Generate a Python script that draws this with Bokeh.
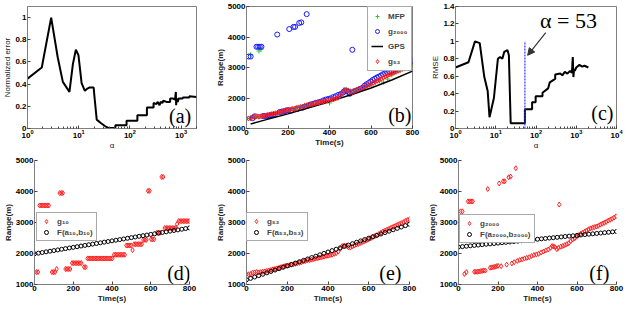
from bokeh.plotting import figure
from bokeh.models import FixedTicker, Label, Arrow, NormalHead
from bokeh.layouts import row, column
from bokeh.embed import file_html
from bokeh.resources import INLINE

# ---------------- data ----------------
# (a) normalized error vs alpha
alpha_a = [1, 1.9, 2.9, 3.9, 4.9, 6.6, 7.7, 8.8, 9.9, 11.4, 13.2, 14.8, 16.4, 19.6, 20.2,
           22.5, 27, 33, 39, 46, 52, 52, 86, 86, 140, 140, 215, 215, 290, 290,
           330, 350, 380, 400, 430, 450, 520, 610, 610, 700, 760, 790, 800, 820, 860,
           900, 1080, 1080, 1450, 1450, 2000]
err_a = [0.45, 0.55, 1.0, 0.64, 0.42, 0.33, 0.58, 0.71, 0.66, 0.41, 0.34, 0.36, 0.37, 0.37, 0.30,
         0.08, 0.05, 0.02, 0.004, 0.005, 0.005, 0.03, 0.03, 0.07, 0.07, 0.12, 0.12, 0.19, 0.19, 0.23,
         0.22, 0.24, 0.21, 0.24, 0.23, 0.25, 0.24, 0.24, 0.27, 0.27, 0.26, 0.33, 0.21, 0.27, 0.24,
         0.27, 0.27, 0.28, 0.28, 0.29, 0.285]

# (c) RMSE vs alpha
alpha_c = [1, 2.1, 3.05, 4, 5.2, 6.3, 7.0, 9.0, 11.3, 12.8, 14.6, 16.3, 19.5, 21.2, 23.5,
           53, 53, 80, 80, 98, 98, 145, 145, 200, 220, 300, 300, 400, 450, 520,
           600, 700, 780, 820, 850, 880, 920, 1000, 1200, 1400, 1600, 2000]
rmse_c = [0.70, 0.76, 1.0, 0.98, 0.59, 0.43, 0.13, 0.35, 0.80, 0.82, 0.80, 0.88, 0.90, 0.84, 0.06,
          0.06, 0.22, 0.22, 0.30, 0.30, 0.37, 0.37, 0.41, 0.46, 0.53, 0.57, 0.62, 0.63, 0.61, 0.65,
          0.63, 0.66, 0.64, 0.82, 0.59, 0.68, 0.66, 0.70, 0.73, 0.71, 0.72, 0.70]
alpha_sel = 53

# (b) MFP estimates
t_mfp = [20, 60, 70, 0, 20, 40, 60, 80, 100, 120, 140, 160, 180, 200, 220, 240, 260, 280, 300,
         320, 340, 360, 380, 400, 420, 440, 460, 470, 480, 500, 520, 540, 560, 580, 600, 620,
         640, 660, 680, 700, 720, 740, 760, 780, 800]
r_mfp = [3420, 3540, 3600, 1320, 1340, 1370, 1380, 1400, 1430, 1460, 1490, 1530, 1570, 1610, 1640,
         1670, 1700, 1740, 1770, 1800, 1850, 1870, 1880, 1840, 1950, 2000, 2180, 2280, 2280, 2230,
         2230, 2280, 2330, 2390, 2450, 2510, 2560, 2520, 2620, 2760, 2860, 2910, 2960, 3040, 3090]

# GPS track
t_gps = [20, 100, 200, 300, 400, 500, 600, 700, 800]
r_gps = [1150, 1300, 1480, 1680, 1880, 2100, 2330, 2590, 2880]

# g_2000
t_g2000 = [10, 20, 30, 40, 48, 56, 64, 72, 80, 88,
           96, 104, 112, 120, 128, 136, 148, 160, 168, 176,
           184, 192, 200, 206, 216, 226, 234, 244, 254, 264,
           270, 282, 290, 298, 310, 322, 334, 346, 358, 370,
           382, 394, 406, 418, 430, 442, 454, 466, 474, 482,
           490, 498, 506, 510, 518, 528, 538, 548, 558, 568,
           578, 588, 598, 608, 618, 628, 638, 648, 658, 668,
           678, 688, 698, 708, 718, 728, 738, 748, 758, 768,
           778, 788, 798]
r_g2000 = [3360, 3360, 1340, 1400, 3680, 3680, 3680, 3680, 1410, 1410,
           1410, 1420, 1430, 1440, 1450, 1450, 4080, 1540, 1550, 1560,
           1570, 1590, 1600, 4260, 1590, 4330, 4330, 1640, 4460, 4480,
           1680, 1720, 4750, 1760, 1790, 1810, 1840, 1860, 1880, 1920,
           1950, 1970, 1990, 2030, 2060, 2100, 2130, 2180, 2240, 2230,
           2200, 2140, 2180, 3580, 2220, 2240, 2270, 2300, 2330, 2400,
           2450, 2490, 2540, 2590, 2630, 2670, 2700, 2740, 2780, 2810,
           2830, 2850, 2870, 2890, 2930, 2960, 2990, 3020, 3060, 3090,
           3120, 3160, 3200]

# g_53
t_g53 = [0, 10, 20, 30, 40, 50, 60, 70, 80, 90,
         100, 110, 120, 130, 140, 150, 160, 170, 180, 190,
         200, 210, 220, 230, 240, 250, 260, 270, 280, 290,
         300, 310, 320, 330, 340, 350, 360, 370, 380, 390,
         400, 410, 420, 430, 440, 450, 460, 470, 480, 490,
         500, 510, 520, 530, 540, 550, 560, 570, 580, 590,
         600, 610, 620, 630, 640, 650, 660, 670, 680, 690,
         700, 710, 720, 730, 740, 750, 760, 770, 780, 790, 800]
r_g53 = [1330, 1330, 1340, 1380, 1390, 1400, 1390, 1400, 1410, 1420,
         1440, 1450, 1470, 1490, 1500, 1520, 1540, 1560, 1580, 1600,
         1610, 1620, 1640, 1650, 1670, 1690, 1700, 1720, 1740, 1760,
         1780, 1790, 1800, 1820, 1840, 1850, 1870, 1880, 1900, 1920,
         1930, 1950, 1960, 1990, 2010, 2060, 2150, 2240, 2260, 2250,
         2200, 2190, 2230, 2260, 2290, 2310, 2340, 2370, 2400, 2430,
         2460, 2490, 2530, 2560, 2590, 2630, 2670, 2710, 2740, 2770,
         2800, 2830, 2860, 2890, 2920, 2950, 2980, 3010, 3050, 3080, 3110]

# g_10
t_g10 = [10, 18, 26, 34, 42, 50, 58, 66, 74, 90, 98, 106, 114, 130, 138, 146, 160, 168, 176, 184,
         194, 202, 210, 218, 226, 234, 242, 256, 264, 274, 282, 290, 298, 306, 314, 322, 330, 338,
         346, 354, 362, 370, 378, 386, 394, 402, 410, 418, 426, 434, 442, 450, 458, 466, 474, 482,
         490, 498, 506, 514, 522, 530, 538, 546, 554, 562, 570, 578, 586, 594, 602, 610, 618, 632,
         640, 648, 656, 664, 672, 680, 688, 696, 704, 712, 720, 728, 736, 744, 752, 760, 768, 776,
         784, 792, 800]
r_g10 = [1400, 1400, 3550, 3550, 3550, 3550, 3550, 3550, 3550, 1400, 1400, 1400, 1500, 3950, 3950, 3950,
         1500, 1500, 1500, 1500, 1690, 1690, 1690, 1690, 1690, 1690, 1690, 1560, 1560,
         1840, 1840, 1840, 1840, 1840, 1840, 1840, 1840, 1840, 1840, 1840, 1840, 1840, 1840, 1840, 1840, 1840,
         1960, 1960, 1960, 1960, 1960, 1960, 1960, 1960, 2260, 2260, 2260, 2260, 2110,
         2300, 2300, 2300, 2300, 2300, 2300, 2440, 2440, 2440, 4020, 4020, 2460, 2460, 2460,
         2670, 2670, 2670, 4470, 4470, 2820, 2820, 2820, 2820, 2820, 2820, 2820, 2820, 2950,
         3045, 3045, 3045, 3045, 3045, 3045, 3045, 3045]

# fitted lines F(a, b)
t_fit = [0, 20, 40, 60, 80, 100, 120, 140, 160, 180, 200, 220, 240, 260, 280, 300, 320, 340, 360, 380,
         400, 420, 440, 460, 480, 500, 520, 540, 560, 580, 600, 620, 640, 660, 680, 700, 720, 740,
         760, 780, 800]
f_10 = [1990, 2011, 2032, 2053, 2074, 2094, 2115, 2136, 2157, 2178, 2199, 2220, 2241, 2261, 2282,
        2303, 2324, 2345, 2366, 2387, 2408, 2428, 2449, 2470, 2491, 2512, 2533, 2554, 2575, 2595,
        2616, 2637, 2658, 2679, 2700, 2721, 2742, 2762, 2783, 2804, 2825]
f_53 = [1152, 1197, 1242, 1286, 1331, 1376, 1421, 1466, 1510, 1555, 1600, 1645, 1690, 1734, 1779,
        1824, 1869, 1914, 1958, 2003, 2048, 2093, 2138, 2182, 2227, 2272, 2317, 2362, 2406, 2451,
        2496, 2541, 2586, 2630, 2675, 2720, 2765, 2810, 2854, 2899, 2944]
f_2000 = [2210, 2222, 2235, 2248, 2260, 2272, 2285, 2298, 2310, 2322, 2335, 2348, 2360, 2372, 2385,
          2398, 2410, 2422, 2435, 2448, 2460, 2472, 2485, 2498, 2510, 2522, 2535, 2548, 2560, 2572,
          2585, 2598, 2610, 2622, 2635, 2648, 2660, 2672, 2685, 2698, 2710]

time_ticks = [0, 200, 400, 600, 800]
range_ticks = [1000, 2000, 3000, 4000, 5000]

FONT = "Liberation Sans"
SERIF = "Liberation Serif"
GRAY = "#7f7f7f"


def make_fig(w, h, xr, yr, xlog, ml, mr, mt, mb, box):
    p = figure(width=w, height=h, x_range=xr, y_range=yr,
               x_axis_type="log" if xlog else "linear",
               output_backend="svg", toolbar_location=None,
               min_border_left=ml, min_border_right=mr, min_border_top=mt, min_border_bottom=mb)
    p.grid.visible = False
    p.outline_line_color = GRAY if box else None
    p.background_fill_color = "white"
    p.border_fill_color = "white"
    for ax in p.xaxis + p.yaxis:
        ax.major_label_text_font = FONT
        ax.major_label_text_font_style = "bold"
        ax.major_label_text_font_size = "8px"
        ax.major_label_text_color = "black"
        ax.axis_line_color = GRAY
        ax.major_tick_line_color = "#444444"
        ax.minor_tick_line_color = "#444444"
        ax.major_tick_in = 3
        ax.major_tick_out = 0
        ax.minor_tick_in = 2
        ax.minor_tick_out = 0
        ax.major_label_standoff = 1
        ax.axis_label_standoff = 0
        ax.axis_label_text_font = FONT
        ax.axis_label_text_font_size = "8px"
        ax.axis_label_text_color = "#222222"
        ax.axis_label_text_font_style = "normal"
    if not xlog:
        p.xaxis.minor_tick_line_color = None
    p.yaxis.minor_tick_line_color = None
    return p


def time_range_axes(p):
    p.xaxis.ticker = FixedTicker(ticks=time_ticks)
    p.yaxis.ticker = FixedTicker(ticks=range_ticks)
    p.xaxis.axis_label = "Time(s)"
    p.yaxis.axis_label = "Range(m)"
    for ax in p.xaxis + p.yaxis:
        ax.axis_label_text_font_style = "bold"


def style_legend(p, loc):
    lg = p.legend[0]
    lg.location = loc
    lg.label_text_font = FONT
    lg.label_text_font_style = "bold"
    lg.label_text_font_size = "8px"
    lg.label_height = 10
    lg.glyph_height = 10
    lg.glyph_width = 12
    lg.spacing = 1
    lg.padding = 3
    lg.margin = 0
    lg.border_line_color = "#555555"
    lg.background_fill_alpha = 1.0


def panel_label(p, x, y, txt):
    p.add_layout(Label(x=x, y=y, text=txt, text_font=SERIF, text_font_size="20px",
                       text_align="center", text_baseline="middle", text_color="black"))


# ---------------- (a) ----------------
pa = make_fig(212, 152, (1, 2000), (0, 1.1), True, 22, 16, 4, 0, True)
pa.line(alpha_a, err_a, line_color="black", line_width=2)
pa.yaxis.ticker = FixedTicker(ticks=[0, 0.2, 0.4, 0.6, 0.8, 1.0])
pa.yaxis.major_label_overrides = {0: "0", 1: "1"}
pa.yaxis.axis_label = "Normalized error"
pa.xaxis.axis_label = "α"
panel_label(pa, 955, 0.115, "(a)")

# ---------------- (b) ----------------
pb = make_fig(212, 152, (0, 800), (1000, 5000), False, 29, 12, 4, 0, True)
time_range_axes(pb)
pb.scatter(t_mfp, r_mfp, marker="cross", size=5, line_color="#22cc22", line_width=1, legend_label="MFP")
pb.scatter(t_g2000, r_g2000, marker="circle", size=5, line_color="#1a1aff", fill_color=None,
           line_width=1, legend_label="g₂₀₀₀")
pb.line(t_gps, r_gps, line_color="black", line_width=1.5, legend_label="GPS")
pb.scatter(t_g53, r_g53, marker="diamond", size=5, line_color="#ff2020", fill_color=None,
           line_width=1, legend_label="g₅₃")
style_legend(pb, "top_right")
pb.legend[0].label_height = 12
pb.legend[0].spacing = 3
panel_label(pb, 739, 1444, "(b)")

# ---------------- (c) ----------------
pc = make_fig(200, 152, (1, 10000), (0, 1.4), True, 31, 8, 6, 0, True)
pc.line(alpha_c, rmse_c, line_color="black", line_width=2)
pc.segment(x0=[alpha_sel], y0=[0], x1=[alpha_sel], y1=[1.0], line_color="#3333ff",
           line_width=1.2, line_dash="2 1")
pc.yaxis.ticker = FixedTicker(ticks=[0, 0.2, 0.4, 0.6, 0.8, 1.0, 1.2, 1.4])
pc.yaxis.major_label_overrides = {0: "0", 1: "1"}
pc.yaxis.axis_label = "RMSE"
pc.xaxis.axis_label = "α"
pc.add_layout(Arrow(end=NormalHead(size=7, fill_color="#333333", line_color="#333333"),
                    x_start=175, y_start=1.10, x_end=62, y_end=0.84,
                    line_color="#333333", line_width=1.2))
pc.add_layout(Label(x=640, y=1.24, text="α = 53", text_font=SERIF, text_font_size="22px",
                    text_align="center", text_baseline="middle", text_color="black"))
panel_label(pc, 4460, 0.18, "(c)")

# ---------------- (d) ----------------
pd_ = make_fig(212, 153, (0, 800), (1000, 5000), False, 22, 23, 8, 0, False)
time_range_axes(pd_)
pd_.scatter(t_g10, r_g10, marker="diamond", size=5, line_color="#ff2020", fill_color=None,
            line_width=1, legend_label="g₁₀")
pd_.scatter(t_fit, f_10, marker="circle", size=4, line_color="black", fill_color=None,
            line_width=1, legend_label="F(a₁₀,b₁₀)")
style_legend(pd_, (2, 43))
panel_label(pd_, 745, 1365, "(d)")

# ---------------- (e) ----------------
pe = make_fig(212, 153, (0, 800), (1000, 5000), False, 29, 15, 8, 0, False)
time_range_axes(pe)
pe.scatter(t_g53, r_g53, marker="diamond", size=5, line_color="#ff2020", fill_color=None,
           line_width=1, legend_label="g₅₃")
pe.scatter(t_fit, f_53, marker="circle", size=4, line_color="black", fill_color=None,
           line_width=1, legend_label="F(a₅₃,b₅₃)")
style_legend(pe, (0, 43))
panel_label(pe, 706, 1365, "(e)")

# ---------------- (f) ----------------
pf = make_fig(200, 153, (0, 800), (1000, 5000), False, 33, 8, 8, 0, False)
time_range_axes(pf)
pf.scatter(t_g2000, r_g2000, marker="diamond", size=5, line_color="#ff2020", fill_color=None,
           line_width=1, legend_label="g₂₀₀₀")
pf.scatter(t_fit, f_2000, marker="circle", size=4, line_color="black", fill_color=None,
           line_width=1, legend_label="F(a₂₀₀₀,b₂₀₀₀)")
style_legend(pf, (1, 41))
panel_label(pf, 713, 1365, "(f)")

layout = column(row(pa, pb, pc), row(pd_, pe, pf))

with open("out.html", "w") as fh:
    fh.write(file_html(layout, INLINE))
